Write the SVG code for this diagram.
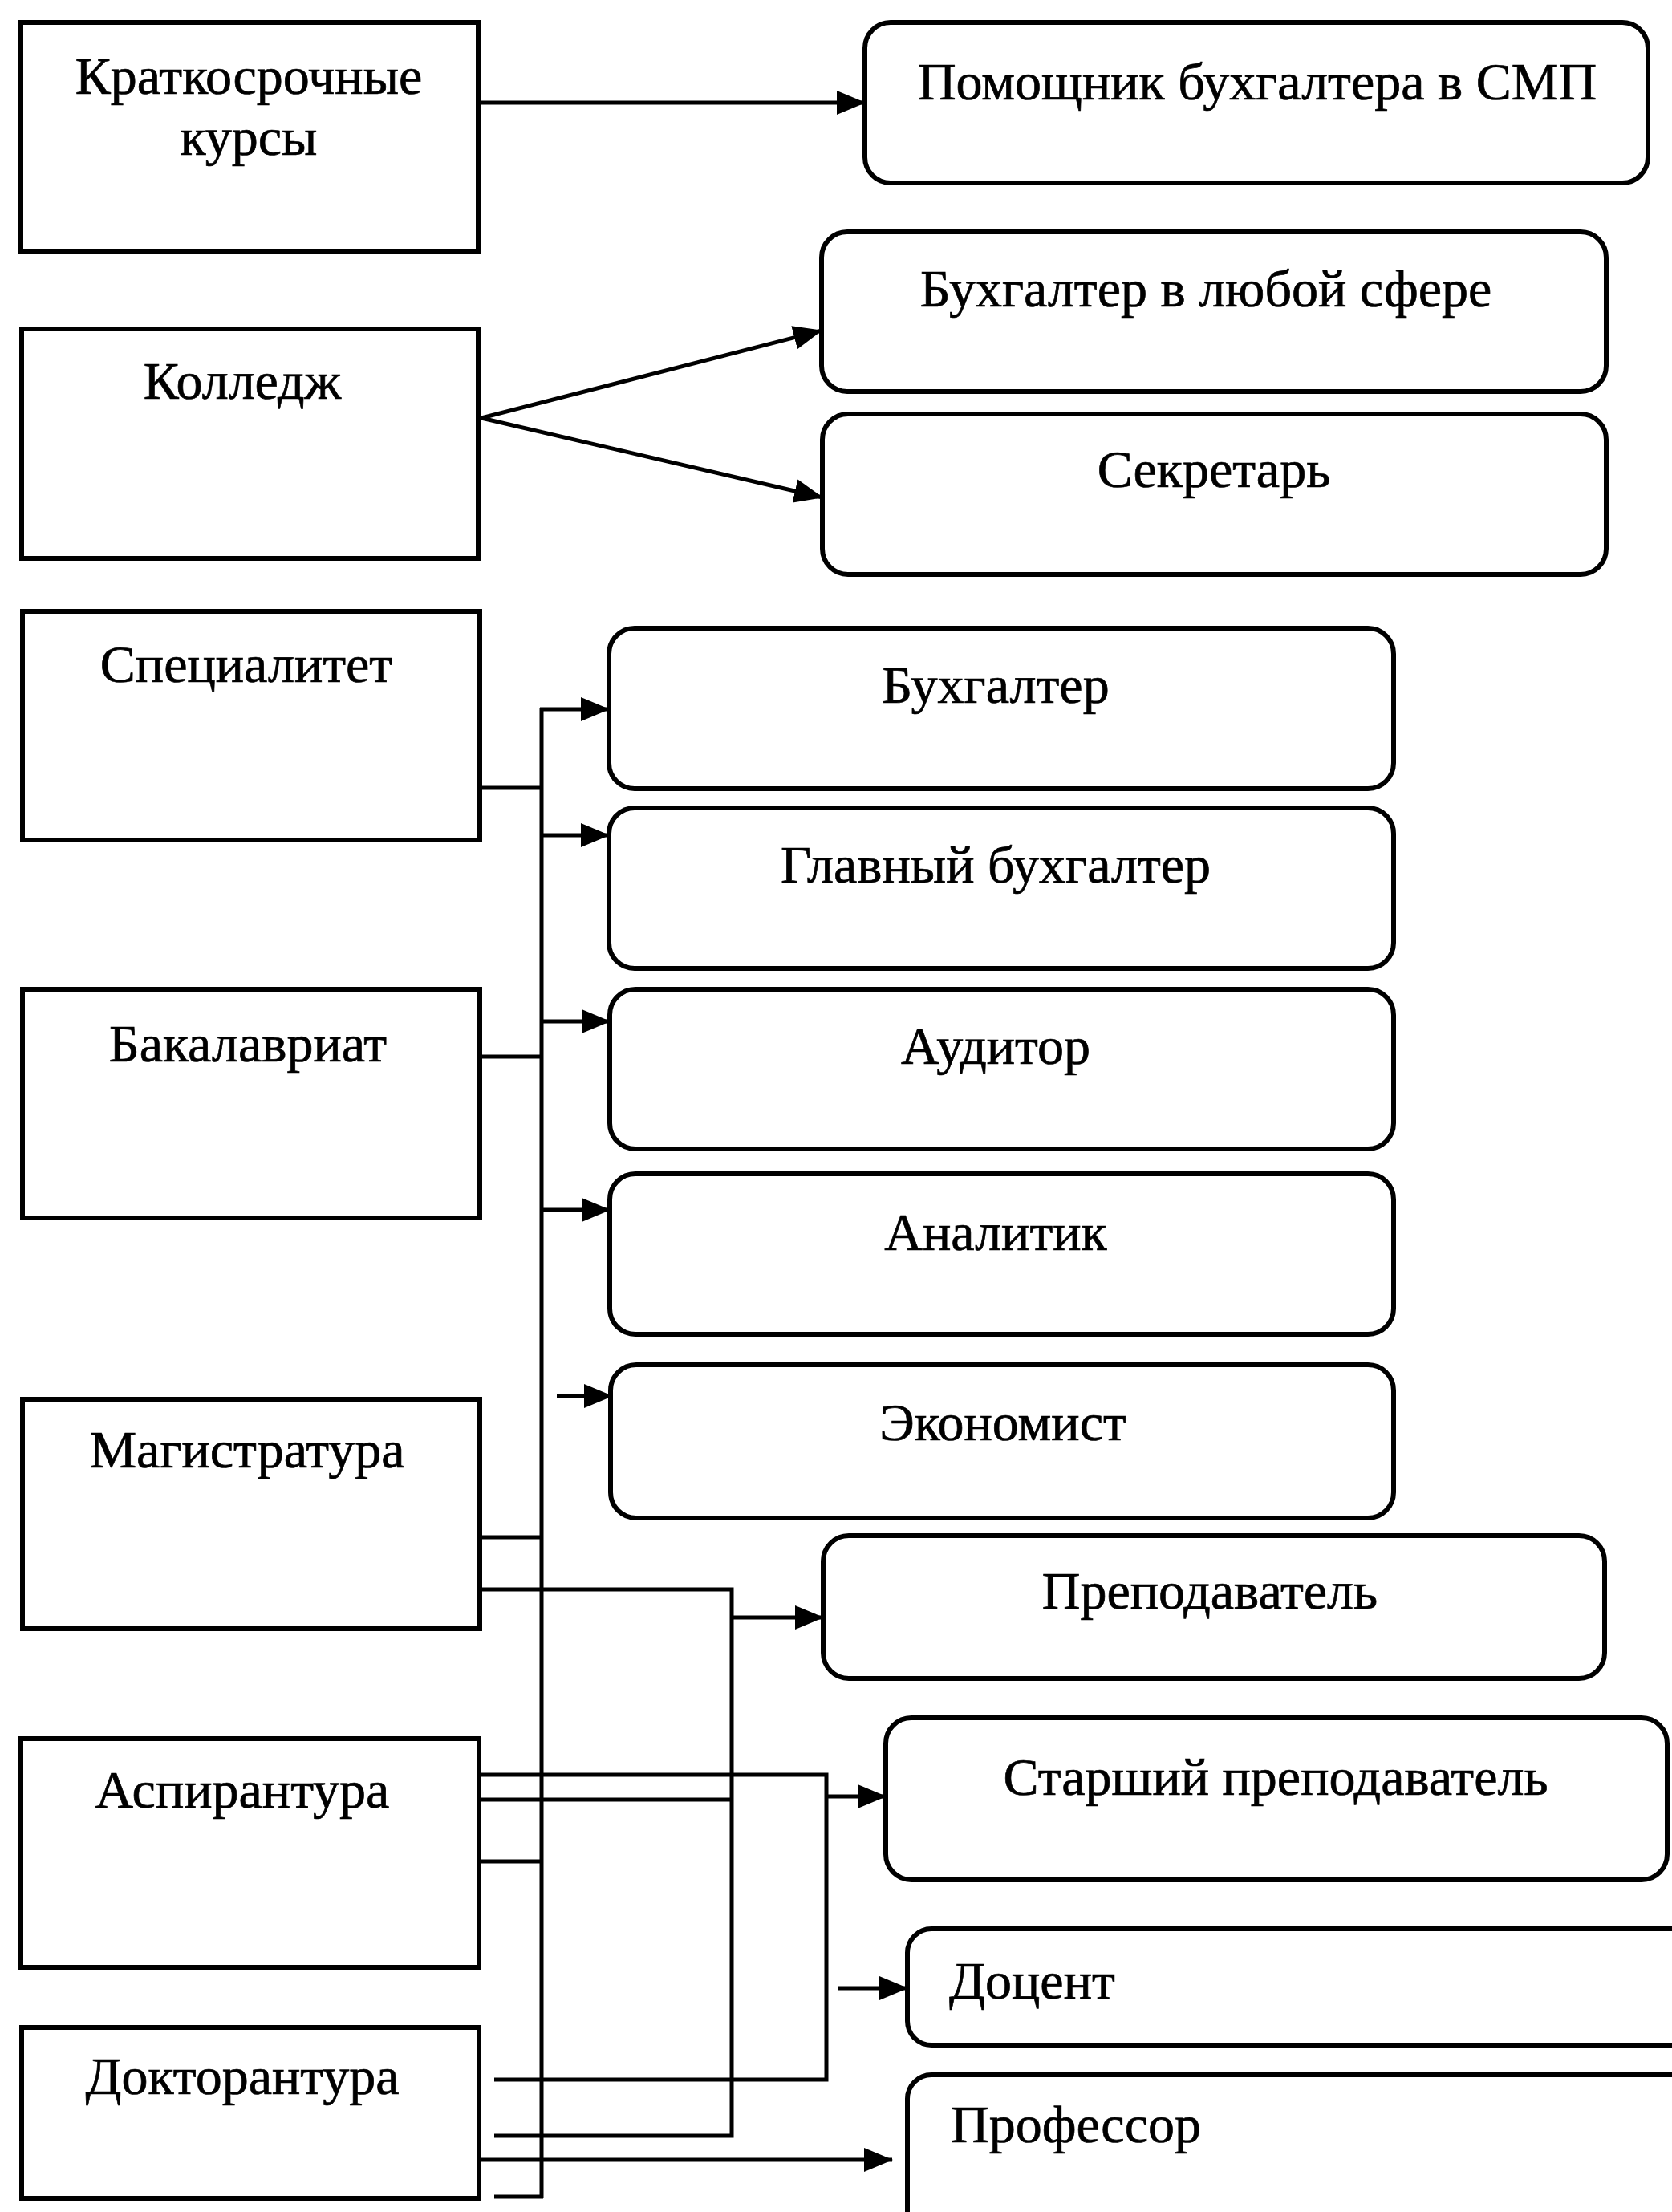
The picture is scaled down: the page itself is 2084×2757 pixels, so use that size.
<svg xmlns="http://www.w3.org/2000/svg" width="2084" height="2757" viewBox="0 0 2084 2757">
<style>
.box{fill:#fff;stroke:#000;stroke-width:6}
.rbox{fill:#fff;stroke:#000;stroke-width:6}
.t{font-family:"Liberation Serif","Times New Roman",serif;font-size:66px;fill:#000;stroke:#000;stroke-width:0.7}
.c{text-anchor:middle}
.ln{fill:none;stroke:#000;stroke-width:5}
.ar{fill:none;stroke:#000;stroke-width:5;marker-end:url(#ah)}
</style>
<defs>
<marker id="ah" markerUnits="userSpaceOnUse" markerWidth="36" markerHeight="30" refX="35" refY="15" orient="auto">
<path d="M0,0 L36,15 L0,30 Z" fill="#000"/>
</marker>
</defs>
<rect width="2084" height="2757" fill="#fff"/>

<g id="connectors">
<line class="ar" x1="596" y1="128" x2="1078" y2="128"/>
<line class="ar" x1="600" y1="521" x2="1024" y2="412"/>
<line class="ar" x1="600" y1="521" x2="1025" y2="620"/>
<line class="ln" x1="598" y1="982" x2="675" y2="982"/>
<line class="ln" x1="598" y1="1317" x2="675" y2="1317"/>
<line class="ln" x1="675" y1="882" x2="675" y2="2740"/>
<line class="ar" x1="673" y1="884" x2="759" y2="884"/>
<line class="ar" x1="673" y1="1041" x2="759" y2="1041"/>
<line class="ar" x1="673" y1="1273" x2="760" y2="1273"/>
<line class="ar" x1="673" y1="1508" x2="760" y2="1508"/>
<line class="ar" x1="694" y1="1740" x2="763" y2="1740"/>
<line class="ln" x1="598" y1="1916" x2="675" y2="1916"/>
<polyline class="ln" points="598,1981 912,1981 912,2662 616,2662"/>
<line class="ar" x1="912" y1="2016" x2="1026" y2="2016"/>
<polyline class="ln" points="597,2212 1030,2212 1030,2592 616,2592"/>
<line class="ar" x1="1030" y1="2239" x2="1104" y2="2239"/>
<line class="ln" x1="597" y1="2243" x2="912" y2="2243"/>
<line class="ln" x1="597" y1="2320" x2="675" y2="2320"/>
<line class="ar" x1="1045" y1="2478" x2="1131" y2="2478"/>
<line class="ar" x1="597" y1="2692" x2="1112" y2="2692"/>
<line class="ln" x1="616" y1="2738" x2="677" y2="2738"/>
</g>

<g id="n-kursy">
<rect class="box" x="26" y="28" width="570" height="285"/>
<text class="t c" x="310" y="117">Краткосрочные</text>
<text class="t c" x="310" y="193">курсы</text>
</g>
<g id="n-kolledzh">
<rect class="box" x="27" y="410" width="569" height="286"/>
<text class="t c" x="302" y="497">Колледж</text>
</g>
<g id="n-specialitet">
<rect class="box" x="28" y="762" width="570" height="285"/>
<text class="t c" x="307" y="850">Специалитет</text>
</g>
<g id="n-bakalavriat">
<rect class="box" x="28" y="1233" width="570" height="285"/>
<text class="t c" x="309" y="1323">Бакалавриат</text>
</g>
<g id="n-magistratura">
<rect class="box" x="28" y="1744" width="570" height="286"/>
<text class="t c" x="308" y="1829">Магистратура</text>
</g>
<g id="n-aspirantura">
<rect class="box" x="26" y="2167" width="571" height="285"/>
<text class="t c" x="302" y="2253">Аспирантура</text>
</g>
<g id="n-doktorantura">
<rect class="box" x="27" y="2527" width="570" height="213"/>
<text class="t c" x="302" y="2610">Докторантура</text>
</g>

<g id="n-pomoshnik">
<rect class="rbox" x="1078" y="28" width="976" height="200" rx="32"/>
<text class="t c" x="1567" y="124">Помощник бухгалтера в СМП</text>
</g>
<g id="n-buh-lyubaya">
<rect class="rbox" x="1024" y="289" width="978" height="199" rx="32"/>
<text class="t c" x="1503" y="382">Бухгалтер в любой сфере</text>
</g>
<g id="n-sekretar">
<rect class="rbox" x="1025" y="516" width="977" height="200" rx="32"/>
<text class="t c" x="1513" y="607">Секретарь</text>
</g>
<g id="n-buhgalter">
<rect class="rbox" x="759" y="783" width="978" height="200" rx="32"/>
<text class="t c" x="1241" y="876">Бухгалтер</text>
</g>
<g id="n-glavbuh">
<rect class="rbox" x="759" y="1007" width="978" height="200" rx="32"/>
<text class="t c" x="1241" y="1100">Главный бухгалтер</text>
</g>
<g id="n-auditor">
<rect class="rbox" x="760" y="1233" width="977" height="199" rx="32"/>
<text class="t c" x="1241" y="1326">Аудитор</text>
</g>
<g id="n-analitik">
<rect class="rbox" x="760" y="1463" width="977" height="200" rx="32"/>
<text class="t c" x="1241" y="1558">Аналитик</text>
</g>
<g id="n-ekonomist">
<rect class="rbox" x="761" y="1701" width="976" height="191" rx="32"/>
<text class="t c" x="1250" y="1795">Экономист</text>
</g>
<g id="n-prepodavatel">
<rect class="rbox" x="1026" y="1914" width="974" height="178" rx="32"/>
<text class="t c" x="1508" y="2005">Преподаватель</text>
</g>
<g id="n-starshiy">
<rect class="rbox" x="1104" y="2141" width="974" height="202" rx="32"/>
<text class="t c" x="1590" y="2237">Старший преподаватель</text>
</g>
<g id="n-docent">
<rect class="rbox" x="1131" y="2404" width="990" height="145" rx="30"/>
<text class="t" x="1183" y="2491">Доцент</text>
</g>
<g id="n-professor">
<rect class="rbox" x="1131" y="2586" width="990" height="240" rx="30"/>
<text class="t" x="1185" y="2670">Профессор</text>
</g>
</svg>
